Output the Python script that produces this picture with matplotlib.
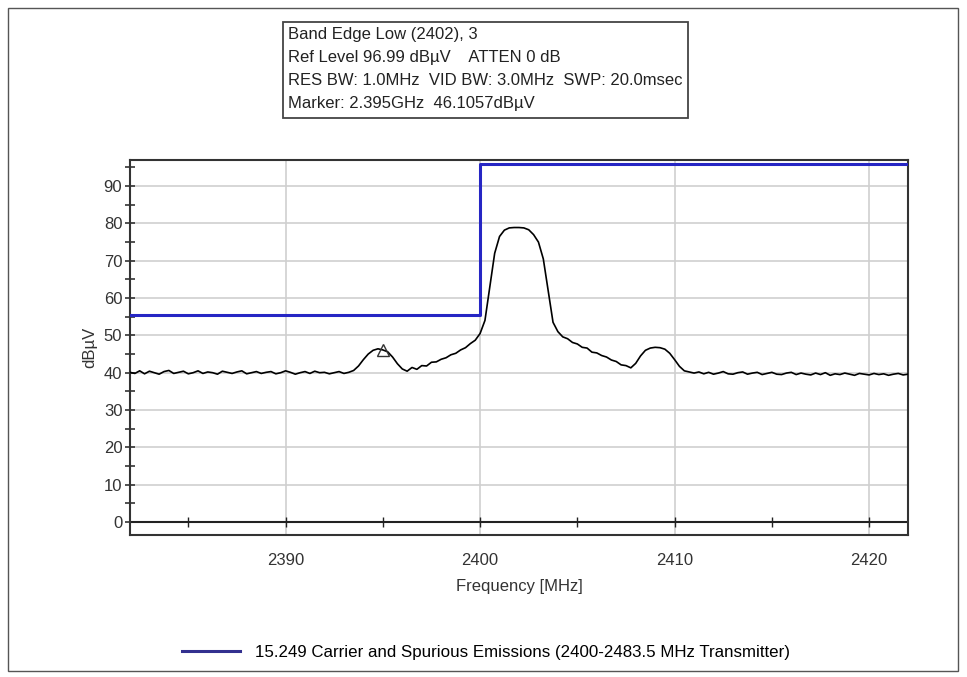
import matplotlib
matplotlib.use('Agg')
import matplotlib.pyplot as plt
from matplotlib.patches import Rectangle
import numpy as np

plt.rcParams['font.family'] = ['Liberation Sans', 'DejaVu Sans']

# measured trace, 0.25 MHz steps from 2382 MHz
f_start, f_step = 2382.0, 0.25
level = [
    40.1, 39.8, 40.5, 39.7, 40.4, 40.0, 39.6, 40.3, 40.6, 39.8,
    40.1, 40.4, 39.7, 40.0, 40.5, 39.8, 40.2, 40.0, 39.6, 40.4,
    40.1, 39.8, 40.2, 40.5, 39.7, 40.0, 40.3, 39.8, 40.1, 40.3,
    39.7, 40.0, 40.5, 40.1, 39.6, 40.0, 40.3, 39.8, 40.4, 40.0,
    40.1, 39.7, 40.0, 40.3, 39.8, 40.1,
    40.6, 41.8, 43.5, 45.0, 46.0, 46.4, 46.1, 45.6, 44.2, 42.4,
    41.0, 40.4, 41.4, 40.9, 41.9, 41.8, 42.8, 42.9, 43.6, 44.0,
    44.8, 45.2, 46.1, 46.7, 47.8, 48.7, 50.5, 54.0, 63.0, 72.0,
    76.5, 78.2, 78.8, 78.9, 78.9, 78.8, 78.3, 77.0, 75.0, 70.5,
    62.0, 53.5, 51.0, 49.6, 49.1, 48.1, 47.7, 46.8, 46.6, 45.5,
    45.3, 44.6, 44.2, 43.4, 43.0, 42.1, 41.9, 41.3, 42.5, 44.5,
    46.0, 46.6, 46.8, 46.7, 46.3, 45.2, 43.5, 41.7, 40.5, 40.2,
    39.9, 40.2, 39.7, 40.1, 39.6, 39.9, 40.3, 39.7, 39.6, 40.0,
    40.2, 39.6, 39.9, 40.1, 39.5, 39.8, 40.1, 39.6, 39.5, 39.9,
    40.1, 39.5, 39.9, 39.6, 39.4, 39.9, 39.5, 40.0, 39.3, 39.7,
    39.5, 39.9, 39.6, 39.3, 39.8, 39.6, 39.4, 39.8, 39.5, 39.7,
    39.3, 39.6, 39.8, 39.4, 39.6,
]
freq = f_start + f_step * np.arange(len(level))

# FCC 15.249 limit line
limit_freq = [2382, 2400, 2400, 2422]
limit_level = [55.5, 55.5, 95.8, 95.8]
limit_label = '15.249 Carrier and Spurious Emissions (2400-2483.5 MHz Transmitter)'

marker_freq, marker_level = 2395.0, 46.1

info_lines = [
    'Band Edge Low (2402), 3',
    'Ref Level 96.99 dB\u00b5V    ATTEN 0 dB',
    'RES BW: 1.0MHz  VID BW: 3.0MHz  SWP: 20.0msec',
    'Marker: 2.395GHz  46.1057dB\u00b5V',
]

fig = plt.figure(figsize=(9.67, 6.77), dpi=100)
ax = fig.add_axes([0.1344, 0.2097, 0.8046, 0.554])

ax.set_xlim(2382, 2422)
ax.set_ylim(-3.5, 97)

ax.set_xticks([2390, 2400, 2410, 2420])
ax.set_yticks(np.arange(0, 91, 10))
ax.set_yticks(np.arange(0, 96, 5), minor=True)
ax.grid(True, color='#cfcfcf', linewidth=1.2)
ax.axhline(0, color='#222222', linewidth=1.5, zorder=2)
xt = np.arange(2385, 2422, 5)
ax.plot(xt, np.zeros_like(xt), '|', color='#222222', markersize=7, zorder=3)

ax.tick_params(axis='x', length=0, pad=13, labelsize=12, colors='#333333')
ax.tick_params(axis='y', which='both', direction='inout', length=7, width=1.2,
               labelsize=12, colors='#333333', pad=2)
for s in ax.spines.values():
    s.set_color('#333333')
    s.set_linewidth(1.5)

ax.plot(freq, level, color='black', linewidth=1.2, zorder=4)
ax.plot(marker_freq, marker_level, '^', mfc='none', mec='#333333', markersize=8, zorder=5)
ax.plot(limit_freq, limit_level, color='#2626c4', linewidth=2.2, zorder=4, label=limit_label)

ax.set_xlabel('Frequency [MHz]', fontsize=12, color='#333333', labelpad=8)
ax.set_ylabel('dB\u00b5V', fontsize=12, color='#333333', labelpad=5)

leg = fig.legend(loc='center', bbox_to_anchor=(486 / 967, 1 - 652 / 677), frameon=False,
                 fontsize=12.2, handlelength=3.4, handletextpad=0.9)
leg.get_lines()[0].set_color('#33308f')

# info box at the top
fig.patches.append(Rectangle((283 / 967, 1 - 118 / 677), 405 / 967, 96 / 677,
                             transform=fig.transFigure, fill=False,
                             edgecolor='#444444', linewidth=1.3))
for i, t in enumerate(info_lines):
    fig.text(288 / 967, 1 - (35 + 22.7 * i) / 677, t, fontsize=12,
             color='#222222', va='center', ha='left')

# outer frame
fig.patches.append(Rectangle((8 / 967, 1 - 671 / 677), 950 / 967, 663 / 677,
                             transform=fig.transFigure, fill=False,
                             edgecolor='#555555', linewidth=1.0))

fig.savefig('out.png', dpi=100)
